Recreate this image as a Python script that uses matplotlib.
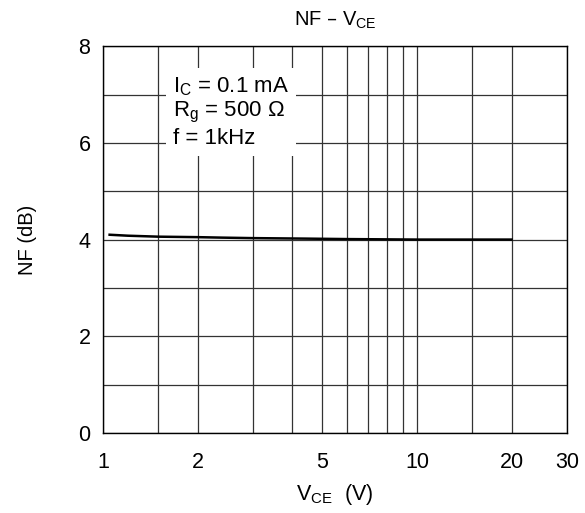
import numpy as np
import matplotlib
matplotlib.use("Agg")
from matplotlib import pyplot as plt

plt.rcParams['font.family'] = ['Liberation Sans', 'DejaVu Sans']
plt.rcParams['mathtext.default'] = 'regular'

# curve
vce = [1.05, 1.2, 1.5, 2.0, 2.4, 3.0, 4.4, 6.0, 10.0, 20.0]
nf = [4.10, 4.08, 4.06, 4.05, 4.04, 4.03, 4.02, 4.01, 4.00, 4.00]

x_major = [1, 2, 5, 10, 20, 30]
x_minor = [1.5, 3, 4, 6, 7, 8, 9, 15]
y_ticks = [0, 2, 4, 6, 8]
y_grid = [1, 3, 5, 7]

fig = plt.figure(figsize=(5.85, 5.13), dpi=100)
ax = fig.add_axes([0.176, 0.156, 0.793, 0.754])

ax.plot(vce, nf, color='black', lw=1.8, zorder=3)

ax.set_xscale('log')
ax.set_xlim(1, 30)
ax.set_ylim(0, 8)
ax.set_xticks(x_major)
ax.set_xticklabels([str(v) for v in x_major])
ax.set_xticks(x_minor, minor=True)
ax.set_xticklabels([], minor=True)
ax.set_yticks(y_ticks)
ax.set_yticks(y_grid, minor=True)
ax.tick_params(which='both', length=0, labelsize=15.5)
ax.tick_params(axis='x', pad=14)
ax.tick_params(axis='y', pad=9)
ax.grid(True, which='both', color='#333333', lw=0.9)
ax.set_axisbelow(True)
for s in ax.spines.values():
    s.set_color('black')
    s.set_linewidth(1.0)

# conditions box, white fill hides the grid behind it
ax.text(0.151, 0.925, 'I$_C$ = 0.1 mA\nR$_g$ = 500 Ω\nf = 1kHz',
        transform=ax.transAxes, fontsize=16, va='top', ha='left',
        linespacing=1.15, zorder=4,
        bbox=dict(facecolor='white', edgecolor='none', pad=5))

ax.set_title('NF – V$_{CE}$', fontsize=14.5, pad=15)
ax.set_xlabel('V$_{CE}$  (V)', fontsize=15.5, labelpad=6)
ax.set_ylabel('NF (dB)', fontsize=14.5, labelpad=30)

fig.savefig('out.png', dpi=100)
